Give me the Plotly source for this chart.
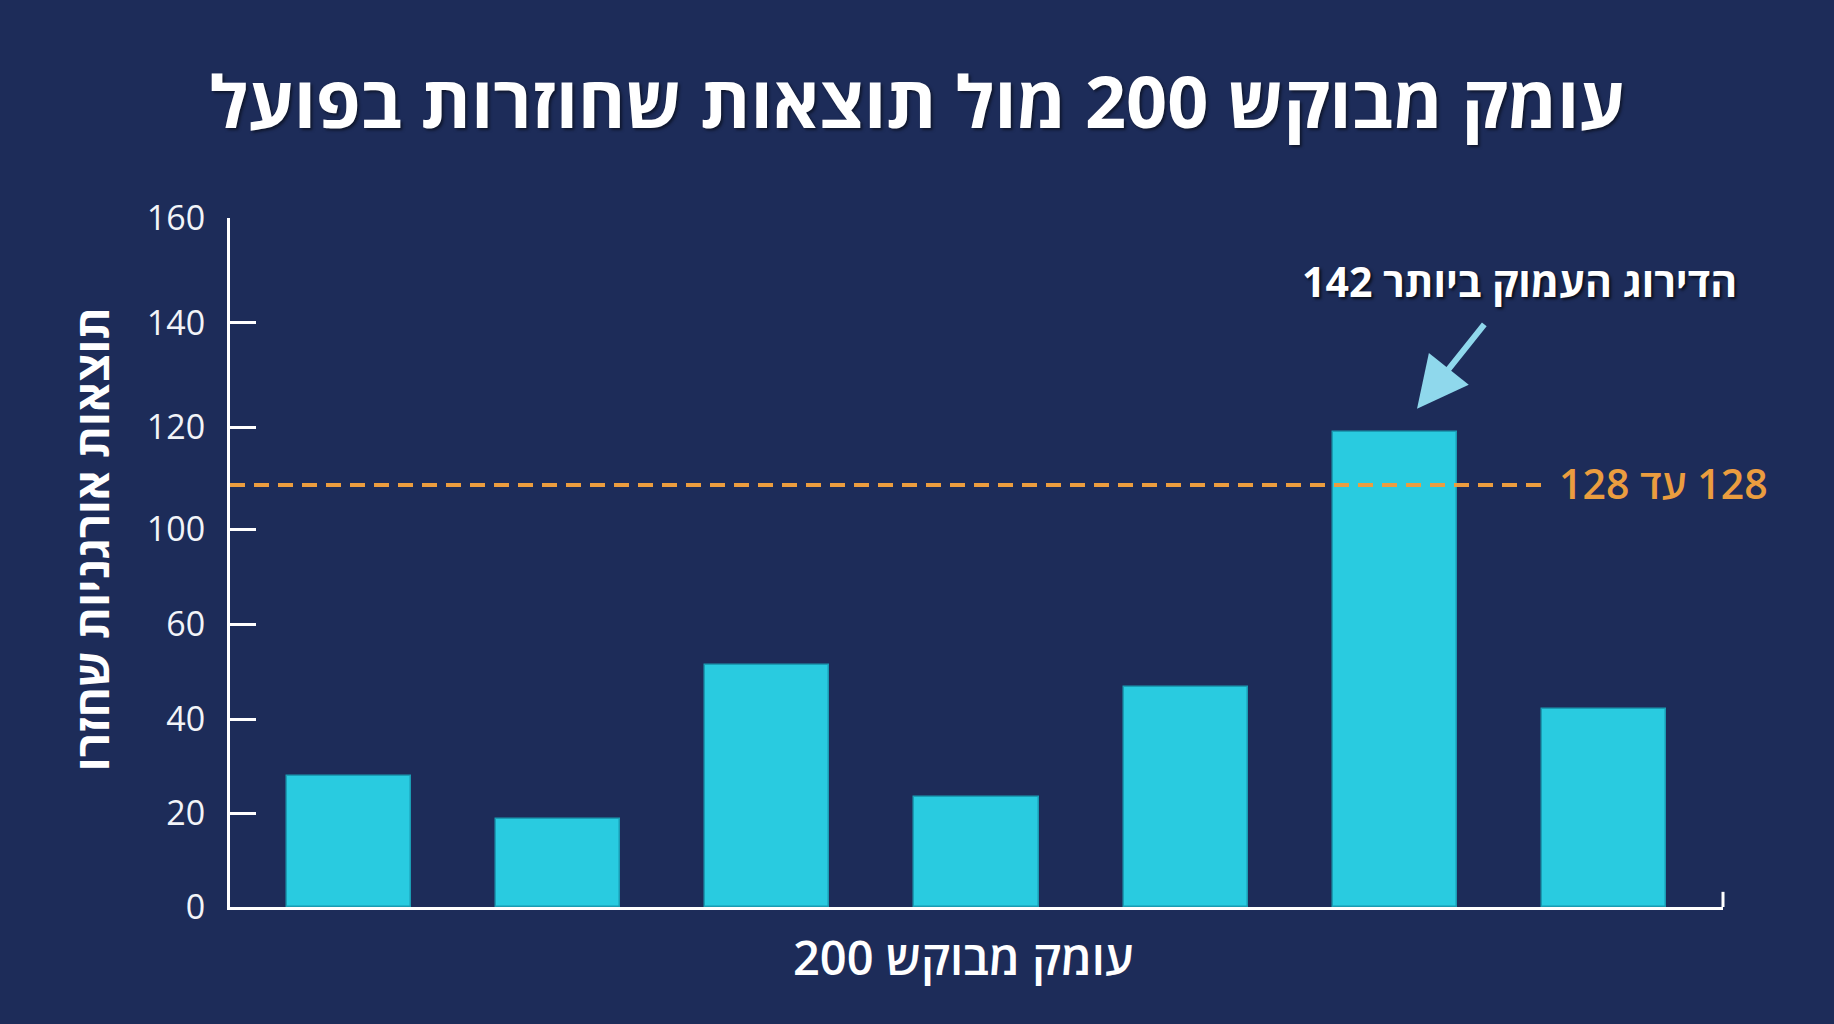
import plotly.graph_objects as go

# chart values
categories = ["1", "2", "3", "4", "5", "6", "7"]
bar_values = [27.9, 18.7, 51.4, 23.4, 46.9, 101.1, 42.1]
threshold_value = 89.8

# the y axis of the picture is not evenly labelled, so keep both lists
y_tick_positions = [0, 20, 40, 60.2, 80.4, 102.1, 124.3, 146.6]
y_tick_labels = ["0", "20", "40", "60", "100", "120", "140", "160"]

title_text = "עומק מבוקש 200 מול תוצאות שחוזרות בפועל"
x_title = "עומק מבוקש 200"
y_title = "תוצאות אורגניות שחזרו"
peak_note = "הדירוג העמוק ביותר 142"
threshold_note = "\u202b128 עד 128\u202c"  # rtl embedding so it reads like the original

BG = "#1d2c59"
BAR = "#29cbe0"
ORANGE = "#eb9d3f"
ARROW = "#8fd8ec"
FONT = "Open Sans, Liberation Sans, DejaVu Sans, sans-serif"

x_lo, x_hi = -0.567, 6.567

fig = go.Figure()

fig.add_trace(go.Bar(
    x=list(range(len(categories))),
    y=bar_values,
    width=0.593,
    marker=dict(color=BAR, line=dict(color="#1a9cb3", width=1.5)),
    hoverinfo="y",
    showlegend=False,
))

# dashed reference line
fig.add_shape(
    type="line", xref="paper", yref="y",
    x0=0, x1=0.881, y0=threshold_value, y1=threshold_value,
    line=dict(color=ORANGE, width=4, dash="15px,9px"),
)
fig.add_annotation(
    xref="paper", yref="y", x=0.889, y=threshold_value,
    text=threshold_note, showarrow=False,
    xanchor="left", yanchor="middle", yshift=2,
    font=dict(family=FONT, size=41, color=ORANGE, weight=600),
)

# small end tick on the x axis
fig.add_shape(
    type="line", xref="paper", yref="paper",
    x0=1, x1=1, y0=0, y1=0.022,
    line=dict(color="white", width=3),
)

# note with arrow towards the tallest bar
fig.add_annotation(
    x=5.105, y=106, xref="x", yref="y",
    ax=102, ay=-128,
    text=peak_note,
    showarrow=True, arrowhead=2, arrowsize=1.7, arrowwidth=6,
    arrowcolor=ARROW, startstandoff=18,
    font=dict(family=FONT, size=41, color="white", weight="bold",
              shadow="2px 2px 3px rgba(0,0,0,0.7)"),
)

# axis titles placed as in the picture
fig.add_annotation(
    xref="paper", yref="paper", x=0.491, y=-0.073,
    text=x_title, showarrow=False,
    xanchor="center", yanchor="middle",
    font=dict(family=FONT, size=47, color="white", weight=600),
)
fig.add_annotation(
    xref="paper", yref="paper", x=-0.093, y=0.534,
    text=y_title, showarrow=False, textangle=-90,
    xanchor="center", yanchor="middle",
    font=dict(family=FONT, size=46, color="white", weight="bold"),
)

fig.update_layout(
    width=1834, height=1024,
    paper_bgcolor=BG, plot_bgcolor=BG,
    margin=dict(l=230, r=111, t=218, b=117),
    font=dict(family=FONT, color="white"),
    title=dict(
        text=title_text, x=0.5, xref="container", xanchor="center",
        y=1 - 103 / 1024, yref="container", yanchor="middle",
        font=dict(family=FONT, size=72, color="white", weight="bold",
                  shadow="2px 2px 3px rgba(0,0,0,0.5)"),
    ),
    bargap=0,
)

fig.update_xaxes(
    range=[x_lo, x_hi],
    showline=True, linecolor="white", linewidth=3,
    showgrid=False, zeroline=False, showticklabels=False, ticks="",
)

fig.update_yaxes(
    range=[0, y_tick_positions[-1]],
    showline=True, linecolor="white", linewidth=3,
    showgrid=False, zeroline=False,
    tickvals=y_tick_positions, ticktext=y_tick_labels,
    ticks="inside", ticklen=26, tickwidth=3, tickcolor="white",
    ticklabelstandoff=15,
    tickfont=dict(family=FONT, size=34, color="#f2f4f8"),
)

fig.write_html(
    "out.html",
    config={"displayModeBar": False},
    post_script="document.body.style.margin='0';"
                "document.body.style.background='" + BG + "';",
)
